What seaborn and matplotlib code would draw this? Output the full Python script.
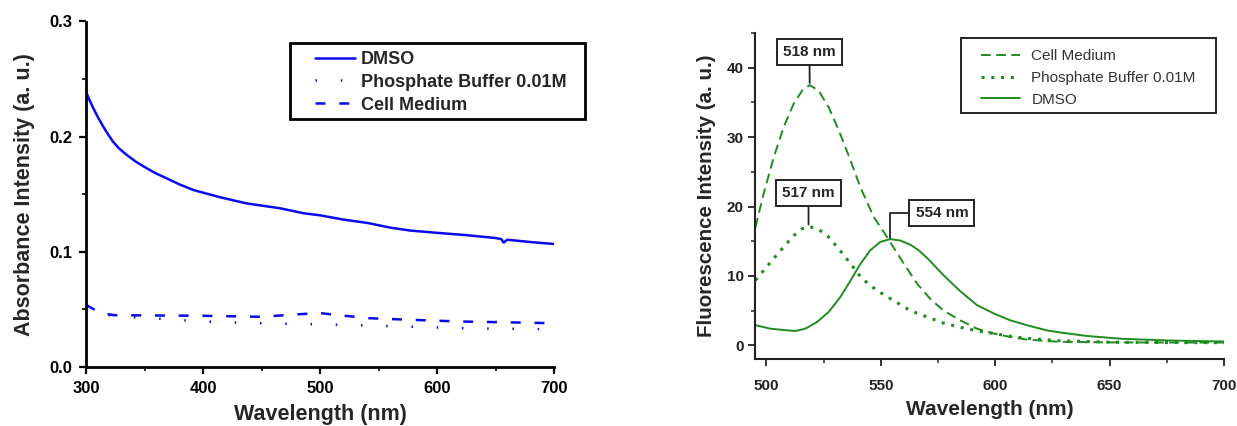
import numpy as np
import pandas as pd
import matplotlib
matplotlib.use("Agg")
import matplotlib.pyplot as plt
from matplotlib.ticker import MultipleLocator, FormatStrFormatter
from matplotlib.patches import Rectangle
import seaborn as sns

# ---------------- data: absorbance (left) ----------------
abs_wl_dmso = [300, 303, 306, 310, 315, 319, 323, 328, 335, 343, 352, 360, 369, 380, 392, 415, 437, 466, 486, 500, 520, 541, 560, 577, 600, 625, 650, 655, 657, 660, 680, 700]
abs_dmso = [0.239, 0.2318, 0.2252, 0.2172, 0.2083, 0.2018, 0.1958, 0.1900, 0.184, 0.178, 0.1725, 0.168, 0.1638, 0.1585, 0.1536, 0.1473, 0.1421, 0.1378, 0.1335, 0.1317, 0.128, 0.125, 0.121, 0.1185, 0.1165, 0.1145, 0.112, 0.111, 0.108, 0.1105, 0.1085, 0.1068]

abs_wl_pb = [300, 312, 324, 357, 399, 449, 500, 541, 577, 620, 660, 700]
abs_pb = [0.054, 0.047, 0.044, 0.0424, 0.0395, 0.038, 0.037, 0.036, 0.035, 0.0337, 0.0332, 0.0328]

abs_wl_cm = [300, 312, 324, 350, 399, 449, 485, 500, 521, 541, 577, 620, 660, 700]
abs_cm = [0.054, 0.047, 0.045, 0.0448, 0.0445, 0.0436, 0.046, 0.0468, 0.0445, 0.0424, 0.041, 0.0395, 0.0388, 0.038]

# ---------------- data: fluorescence (right) ----------------
fl_wl_cm = [495.2, 498.8, 503.2, 507.6, 511.9, 515.6, 518.9, 522.8, 527.2, 531.6, 536.7, 541.0, 546.9, 552.7,
            556.5, 560.0, 565.8, 571.6, 577.4, 584.7, 592.0, 599.3, 606.6, 613.8, 628.4, 650, 675, 700]
fl_cm = [17.0, 21.9, 27.1, 31.5, 34.8, 36.7, 37.5, 36.7, 34.3, 31.0, 26.7, 22.8, 18.5, 15.6,
         13.6, 11.8, 8.9, 6.7, 5.0, 3.6, 2.4, 1.7, 1.2, 0.82, 0.5, 0.42, 0.4, 0.4]

fl_wl_pb = [495.2, 498.8, 503.2, 507.6, 511.9, 515.6, 518.9, 522.8, 527.2, 531.6, 536.7, 541.8, 548.3, 555.6,
            562.9, 570.2, 577.4, 584.7, 592.0, 599.3, 606.6, 613.8, 628.4, 650, 675, 700]
fl_pb = [9.37, 10.8, 12.5, 14.2, 15.8, 16.8, 17.1, 16.7, 15.6, 13.9, 11.8, 9.6, 7.9, 6.45,
         5.0, 4.1, 3.2, 2.6, 2.1, 1.7, 1.3, 1.0, 0.66, 0.45, 0.4, 0.38]

fl_wl_dmso = [495.2, 501.7, 507.6, 512.7, 517.0, 522.1, 527.2, 532.3, 536.7, 541.0, 545.4, 549.8, 554.1,
              558.5, 562.9, 566.5, 570.2, 577.4, 584.7, 592.0, 599.3, 606.6, 613.8, 622.6, 628.4, 640, 655, 675, 700]
fl_dmso = [2.9, 2.4, 2.2, 2.06, 2.4, 3.35, 4.8, 6.96, 9.3, 11.7, 13.7, 14.9, 15.3,
           15.1, 14.5, 13.7, 12.6, 10.1, 7.8, 5.8, 4.6, 3.6, 2.9, 2.15, 1.85, 1.35, 0.95, 0.7, 0.55]

peak_labels = ["518 nm", "517 nm", "554 nm"]
peak_x = [518.9, 518.4, 553.8]
peak_y = [37.8, 17.4, 15.5]
label_x = [518.8, 518.4, 576.7]
label_y = [42.3, 21.9, 19.1]

# ---------------- style ----------------
sns.set_theme(style="ticks")
plt.rcParams["font.family"] = ["Liberation Sans", "DejaVu Sans"]

BLUE = "#0a0af0"
GREEN = "#1f8c1f"
W, H = 1237.0, 426.0

fig = plt.figure(figsize=(12.37, 4.26), dpi=100)
ax1 = fig.add_axes([86 / W, 1 - 367 / H, 468 / W, 345.5 / H])
ax2 = fig.add_axes([755 / W, 1 - 359.2 / H, 469 / W, 326.2 / H])

# ---------------- left panel ----------------
lw1 = 1.8
sns.lineplot(x=abs_wl_dmso, y=abs_dmso, ax=ax1, color=BLUE, lw=lw1, label="DMSO")
sns.lineplot(x=abs_wl_pb, y=abs_pb, ax=ax1, color=BLUE, lw=lw1, label="Phosphate Buffer 0.01M",
             linestyle=(0, (0.6, 9.5)))
sns.lineplot(x=abs_wl_cm, y=abs_cm, ax=ax1, color=BLUE, lw=lw1, label="Cell Medium",
             linestyle=(0, (4, 5.5)))

ax1.set_xlim(300, 700)
ax1.set_ylim(0, 0.3)
ax1.xaxis.set_major_locator(MultipleLocator(100))
ax1.xaxis.set_minor_locator(MultipleLocator(50))
ax1.yaxis.set_major_locator(MultipleLocator(0.1))
ax1.yaxis.set_minor_locator(MultipleLocator(0.05))
ax1.yaxis.set_major_formatter(FormatStrFormatter("%.1f"))
for s in ["top", "right"]:
    ax1.spines[s].set_visible(False)
for s in ["left", "bottom"]:
    ax1.spines[s].set_linewidth(2.0)
    ax1.spines[s].set_color("black")
ax1.tick_params(which="major", direction="out", length=5, width=1.6, labelsize=12, colors="black", pad=5)
ax1.tick_params(which="minor", direction="out", length=3, width=1.4)
for t in ax1.get_xticklabels() + ax1.get_yticklabels():
    t.set_fontweight("bold")
ax1.set_xlabel("Wavelength (nm)", fontsize=15.5, fontweight="bold", labelpad=6)
ax1.set_ylabel("Absorbance Intensity (a. u.)", fontsize=15.5, fontweight="bold", labelpad=10)

ax1.add_patch(Rectangle((290 / W, 1 - 119 / H), 295 / W, 76 / H, transform=fig.transFigure,
                        fc="white", ec="black", lw=2.0, zorder=5, clip_on=False))
leg1 = ax1.legend(loc="upper left", bbox_to_anchor=(315 / W, 1 - 51 / H),
                  bbox_transform=fig.transFigure, frameon=False,
                  prop={"weight": "bold", "size": 13}, handlelength=2.2, handletextpad=0.35,
                  borderpad=0, labelspacing=0.32, borderaxespad=0)
leg1.set_zorder(6)

# ---------------- right panel ----------------
lw2 = 1.4
sns.lineplot(x=fl_wl_cm, y=fl_cm, ax=ax2, color=GREEN, lw=lw2, label="Cell Medium",
             linestyle=(0, (5, 2.8)))
sns.lineplot(x=fl_wl_pb, y=fl_pb, ax=ax2, color=GREEN, lw=2.2, label="Phosphate Buffer 0.01M",
             linestyle=(0, (1, 2.2)))
sns.lineplot(x=fl_wl_dmso, y=fl_dmso, ax=ax2, color=GREEN, lw=lw2, label="DMSO")

ax2.set_xlim(495, 700)
ax2.set_ylim(-2, 45)
ax2.xaxis.set_major_locator(MultipleLocator(50))
ax2.xaxis.set_minor_locator(MultipleLocator(25))
ax2.yaxis.set_major_locator(MultipleLocator(10))
ax2.yaxis.set_minor_locator(MultipleLocator(5))
for s in ["top", "right"]:
    ax2.spines[s].set_visible(False)
for s in ["left", "bottom"]:
    ax2.spines[s].set_linewidth(1.5)
    ax2.spines[s].set_color("#222222")
ax2.tick_params(which="major", direction="out", length=5, width=1.3, labelsize=11, colors="#222222")
ax2.tick_params(axis="x", which="major", pad=9)
ax2.tick_params(axis="y", which="major", pad=3)
ax2.tick_params(which="minor", direction="out", length=3, width=1.1)
for t in ax2.get_xticklabels() + ax2.get_yticklabels():
    t.set_fontweight("bold")
ax2.set_xlabel("Wavelength (nm)", fontsize=15, fontweight="bold", labelpad=5)
ax2.set_ylabel("Fluorescence Intensity (a. u.)", fontsize=14.8, fontweight="bold", labelpad=8)

ax2.add_patch(Rectangle((960.8 / W, 1 - 113 / H), 255 / W, 75.5 / H, transform=fig.transFigure,
                        fc="white", ec="#222222", lw=1.4, zorder=5, clip_on=False))
leg2 = ax2.legend(loc="upper left", bbox_to_anchor=(980.7 / W, 1 - 49.5 / H),
                  bbox_transform=fig.transFigure, frameon=False,
                  prop={"size": 11}, handlelength=2.6, handletextpad=0.72,
                  borderpad=0, labelspacing=0.5, borderaxespad=0)
leg2.set_zorder(6)
for t in leg2.get_texts():
    t.set_color("#333333")

for i, lab in enumerate(peak_labels):
    cs = "angle,angleA=0,angleB=90,rad=0" if i == 2 else "arc3"
    ax2.annotate(lab, xy=(peak_x[i], peak_y[i]), xytext=(label_x[i], label_y[i]),
                 ha="center", va="center", fontsize=11, fontweight="bold",
                 bbox=dict(boxstyle="square,pad=0.4", fc="white", ec="#222222", lw=1.4),
                 arrowprops=dict(arrowstyle="-", color="#222222", lw=1.3, shrinkA=0, shrinkB=0,
                                 connectionstyle=cs))

fig.savefig("out.png", dpi=100)
